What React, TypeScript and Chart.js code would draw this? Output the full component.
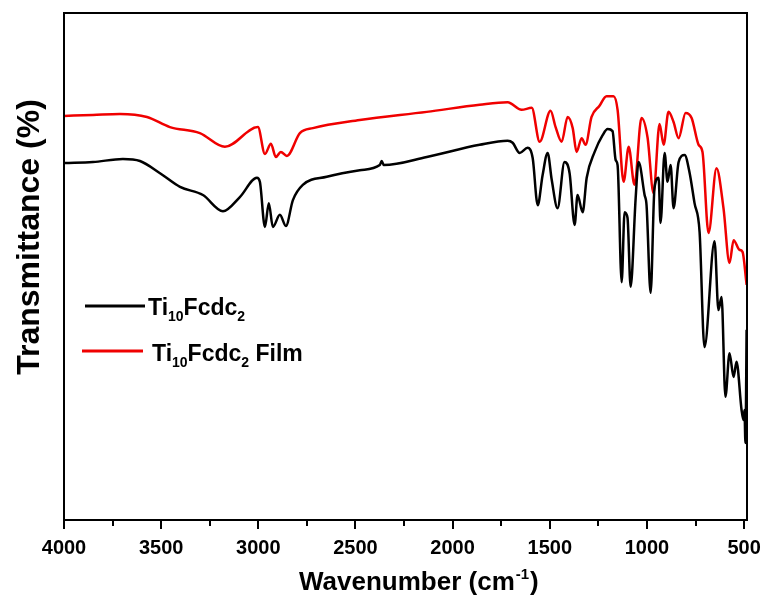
import { useEffect, useRef } from "react";
import { Chart, registerables } from "chart.js";

Chart.register(...registerables);

// Ti10Fcdc2 (black) spectrum: wavenumber (cm-1) and transmittance (a.u.)
const blackWavenumber = [
  3995, 3851, 3697, 3609, 3506, 3403, 3285, 3182, 3095, 3007, 2992, 2966, 2946, 2925, 2889, 2858,
  2822, 2771, 2648, 2478, 2375, 2365, 2354, 2133, 1861, 1717, 1691, 1655, 1614, 1588, 1562, 1537,
  1511, 1490, 1460, 1424, 1398, 1372, 1357, 1331, 1310, 1269, 1228, 1202, 1177, 1161, 1151, 1130,
  1115, 1100, 1084, 1058, 1043, 1012, 1002, 981, 961, 940, 930, 909, 894, 878, 863, 837, 806, 781,
  755, 729, 704, 652, 632, 616, 596, 575, 554, 539, 513, 503, 498, 493, 487,
];
const blackTransmittance = [
  70.4, 70.6, 71.2, 70.8, 68.4, 65.7, 64.1, 60.9, 63.7, 67.5, 66.7, 57.8, 62.5, 57.8, 60.2, 58.0,
  63.1, 66.1, 67.7, 69.0, 70.0, 70.8, 70.0, 71.6, 74.0, 74.8, 74.4, 72.4, 73.4, 71.4, 62.1, 68.0,
  72.4, 67.1, 61.5, 70.6, 68.4, 58.2, 64.1, 60.7, 67.5, 72.6, 75.9, 77.1, 76.7, 71.0, 70.0, 46.9,
  60.7, 59.6, 46.0, 63.5, 70.6, 64.1, 62.1, 44.8, 65.5, 67.5, 58.6, 72.4, 66.7, 70.0, 61.5, 70.6, 72.0, 68.6,
  62.5, 56.8, 34.1, 55.0, 41.4, 44.0, 24.3, 32.9, 28.2, 31.2, 21.7, 19.7, 21.7, 15.2, 37.5,
];

// Ti10Fcdc2 Film (red) spectrum
const redWavenumber = [
  4000, 3851, 3712, 3573, 3455, 3301, 3172, 3002, 2966, 2935, 2910, 2884, 2853, 2786, 2719, 2478,
  2133, 1861, 1717, 1645, 1593, 1552, 1496, 1470, 1439, 1408, 1382, 1362, 1336, 1316, 1285, 1244,
  1208, 1172, 1151, 1120, 1094, 1064, 1028, 997, 966, 935, 914, 889, 863, 837, 801, 770, 734, 714,
  683, 642, 606, 575, 554, 524, 508, 487,
];
const redTransmittance = [
  79.7, 79.9, 80.1, 79.5, 77.5, 76.3, 73.6, 77.5, 72.2, 74.2, 71.6, 72.6, 71.8, 76.3, 77.3, 78.9,
  80.5, 81.9, 82.4, 80.9, 81.3, 74.6, 80.7, 77.5, 74.6, 79.5, 77.3, 72.6, 75.3, 74.0, 79.5, 81.7,
  83.6, 83.6, 80.9, 66.7, 73.6, 66.1, 79.3, 75.5, 64.5, 78.1, 74.0, 80.5, 78.5, 75.3, 80.3, 79.3, 74.0, 72.6,
  56.6, 69.4, 61.5, 50.7, 55.2, 53.3, 52.9, 46.4,
];

const xTickValues = [4000, 3750, 3500, 3250, 3000, 2750, 2500, 2250, 2000, 1750, 1500, 1250, 1000, 750, 500];
const xAxisTitle = ["Wavenumber (cm", "-1", ")"];
const yAxisTitle = "Transmittance (%)";
const seriesNames = ["Ti10Fcdc2", "Ti10Fcdc2 Film"];
// legend labels split into [text, isSubscript]
const legendParts: [string, boolean][][] = [
  [["Ti", false], ["10", true], ["Fcdc", false], ["2", true]],
  [["Ti", false], ["10", true], ["Fcdc", false], ["2", true], [" Film", false]],
];
const seriesColors = ["#000000", "#f00000"];

const FONT = '"Liberation Sans", Arial, sans-serif';

const decorPlugin = {
  id: "decor",
  afterDraw(chart: any) {
    const { ctx, chartArea: a, scales } = chart;
    ctx.save();
    ctx.strokeStyle = "#000";
    ctx.lineWidth = 2;
    ctx.strokeRect(a.left, a.top, a.right - a.left, a.bottom - a.top);
    // ticks
    const xs = scales.x;
    xTickValues.forEach((v) => {
      const px = Math.round(xs.getPixelForValue(v));
      const len = v % 500 === 0 ? 9 : 6;
      ctx.beginPath();
      ctx.moveTo(px, a.bottom);
      ctx.lineTo(px, a.bottom + len);
      ctx.stroke();
    });

    ctx.fillStyle = "#000";
    // y title
    ctx.save();
    ctx.translate(30, 237);
    ctx.rotate(-Math.PI / 2);
    ctx.textAlign = "center";
    ctx.textBaseline = "middle";
    ctx.font = `bold 32px ${FONT}`;
    ctx.fillText(yAxisTitle, 0, 0);
    ctx.restore();

    // x title with superscript
    ctx.textAlign = "left";
    ctx.textBaseline = "alphabetic";
    let x = 299;
    const base = 590;
    ctx.font = `bold 26px ${FONT}`;
    ctx.fillText(xAxisTitle[0], x, base);
    x += ctx.measureText(xAxisTitle[0]).width + 1;
    ctx.font = `bold 15px ${FONT}`;
    ctx.fillText(xAxisTitle[1], x, base - 11);
    x += ctx.measureText(xAxisTitle[1]).width + 1;
    ctx.font = `bold 26px ${FONT}`;
    ctx.fillText(xAxisTitle[2], x, base);

    // legend
    const entries = [
      { x1: 85, x2: 145, ly: 306, tx: 148, base: 315 },
      { x1: 82, x2: 143, ly: 351, tx: 152, base: 361 },
    ];
    entries.forEach((e, i) => {
      ctx.strokeStyle = seriesColors[i];
      ctx.lineWidth = 3;
      ctx.beginPath();
      ctx.moveTo(e.x1, e.ly);
      ctx.lineTo(e.x2, e.ly);
      ctx.stroke();
      let tx = e.tx;
      legendParts[i].forEach(([t, sub]) => {
        ctx.font = sub ? `bold 14px ${FONT}` : `bold 23px ${FONT}`;
        ctx.fillText(t, tx, sub ? e.base + 6 : e.base);
        tx += ctx.measureText(t).width;
      });
    });
    ctx.restore();
  },
};

export default function App() {
  const ref = useRef<HTMLCanvasElement | null>(null);
  useEffect(() => {
    if (!ref.current) return;
    const chart = new Chart(ref.current, {
      type: "line",
      data: {
        datasets: [
          {
            label: seriesNames[0],
            data: blackWavenumber.map((w, i) => ({ x: w, y: blackTransmittance[i] })),
            borderColor: seriesColors[0],
            borderWidth: 2.5,
            pointRadius: 0,
            cubicInterpolationMode: "monotone",
          },
          {
            label: seriesNames[1],
            data: redWavenumber.map((w, i) => ({ x: w, y: redTransmittance[i] })),
            borderColor: seriesColors[1],
            borderWidth: 2.5,
            pointRadius: 0,
            cubicInterpolationMode: "monotone",
          },
        ],
      },
      options: {
        animation: false,
        responsive: true,
        maintainAspectRatio: false,
        layout: { padding: { left: 64, right: 19, top: 13, bottom: 0 } },
        plugins: { legend: { display: false }, tooltip: { enabled: false } },
        scales: {
          x: {
            type: "linear",
            reverse: true,
            min: 485,
            max: 4000,
            border: { display: false },
            grid: { display: false, drawTicks: false },
            afterBuildTicks: (s: any) => {
              s.ticks = xTickValues.map((v) => ({ value: v }));
            },
            afterFit: (s: any) => {
              s.height = 81;
              s.paddingLeft = 0;
              s.paddingRight = 0;
            },
            ticks: {
              autoSkip: false,
              maxRotation: 0,
              padding: 16,
              color: "#000",
              font: { family: FONT, size: 20, weight: "bold" },
              callback: (v: any) => (Number(v) % 500 === 0 ? String(v) : ""),
            },
          },
          y: {
            display: false,
            min: 0,
            max: 100,
          },
        },
      },
      plugins: [decorPlugin],
    });
    return () => chart.destroy();
  }, []);
  return (
    <div style={{ position: "absolute", left: 0, top: 0, width: 766, height: 601, background: "#fff" }}>
      <canvas ref={ref} />
    </div>
  );
}
